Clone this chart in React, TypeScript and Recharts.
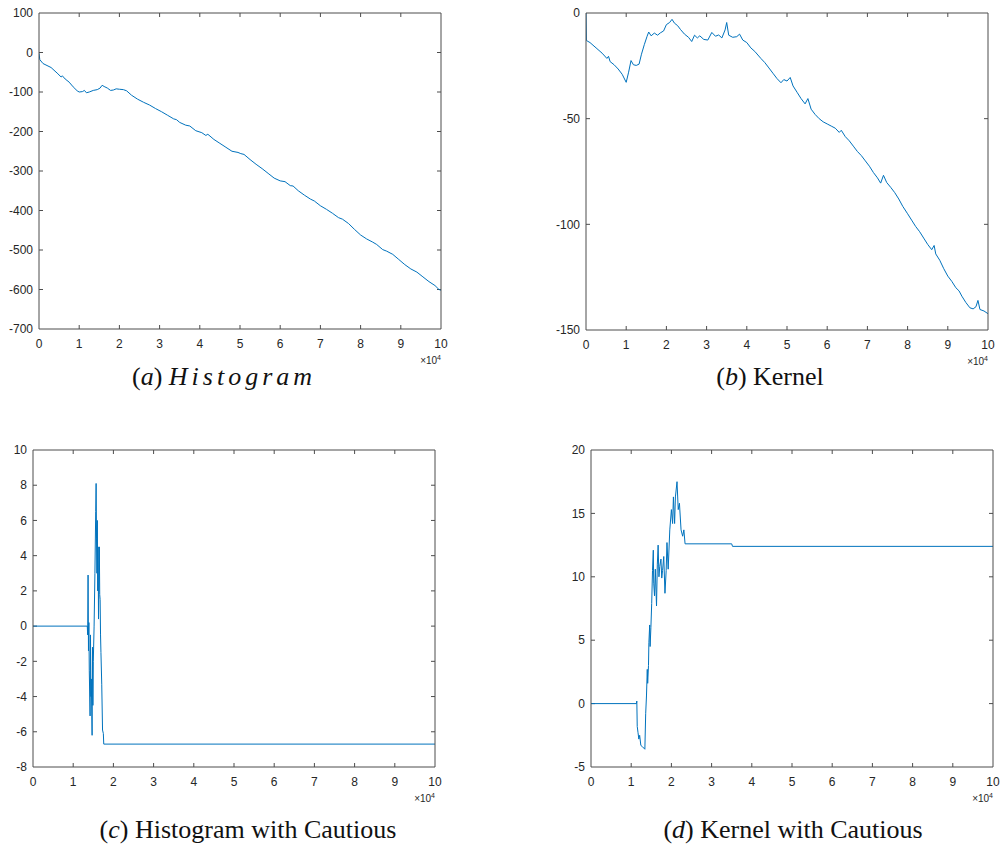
import React from "react";
import { LineChart, Line, XAxis, YAxis, ReferenceLine } from "recharts";

type Pt = [number, number];

// x ticks shared by all four panels (labels are shown in units of 10^4)
const xTicks = [0, 10000, 20000, 30000, 40000, 50000, 60000, 70000, 80000, 90000, 100000];

// (a) Histogram
const histogramTicks = [-700, -600, -500, -400, -300, -200, -100, 0, 100];
const histogramPts: Pt[] = [
  [0, -2], [200, -18], [1000, -28], [3000, -38], [4500, -52], [5500, -62], [5800, -59], [6500, -67],
  [7500, -75], [8500, -87], [9500, -97], [10000, -100], [10800, -99], [11300, -96], [11800, -102],
  [12500, -100], [13500, -96], [14500, -94], [15200, -90], [15700, -83], [16200, -86], [17000, -90],
  [17800, -96], [18500, -95], [19200, -92], [20000, -93], [21000, -94], [21800, -97], [23000, -108],
  [24500, -118], [26000, -126], [27500, -133], [29000, -142], [30500, -150], [32000, -159], [33500, -168],
  [34200, -170], [35000, -177], [36500, -184], [37500, -186], [39000, -198], [40500, -203], [41500, -210],
  [42000, -207], [43500, -220], [45000, -230], [46500, -240], [48000, -250], [49500, -253], [50200, -256],
  [51000, -258], [52500, -271], [54000, -283], [55500, -294], [57000, -306], [58500, -318], [60000, -325],
  [61200, -327], [62500, -337], [63200, -338], [64500, -350], [66000, -361], [67500, -371], [68500, -376],
  [70000, -388], [71500, -397], [73000, -407], [74500, -418], [75500, -422], [77000, -433], [78500, -448],
  [80000, -462], [81500, -472], [83000, -480], [84000, -486], [85500, -499], [86500, -503], [88000, -511],
  [89500, -524], [91000, -537], [92500, -548], [94000, -556], [95500, -568], [97000, -580], [98500, -590],
  [99500, -600], [100000, -602],
];

// (b) Kernel
const kernelTicks = [-150, -100, -50, 0];
const kernelPts: Pt[] = [
  [0, 0], [100, -13], [1000, -14], [2500, -16.5], [4000, -19], [5200, -21.5], [5600, -20.5], [6000, -23],
  [7000, -24.5], [8000, -26.5], [9000, -29], [10000, -32.8], [10600, -28], [11200, -22.5], [11800, -24.5],
  [12500, -24.8], [13200, -24.2], [13800, -19.5], [14500, -15], [15200, -11], [15600, -9], [16200, -10.8],
  [17000, -9.5], [17800, -10.5], [18500, -9.4], [19300, -8.5], [20000, -5.5], [20800, -4.5], [21400, -3],
  [22000, -4.8], [22800, -6], [23500, -7.8], [24500, -10], [25500, -11.5], [26300, -13.5], [27000, -10.5],
  [27700, -11.8], [28300, -10.8], [29300, -12.5], [30300, -12.8], [31300, -9.2], [32200, -11], [33000, -10.4],
  [33800, -11.8], [34600, -8], [35000, -4.5], [35500, -10.5], [36500, -11.5], [37500, -11.2], [38200, -10],
  [39000, -12.8], [40000, -14], [41000, -16.5], [42000, -18.2], [43500, -21.5], [44500, -23.5], [45500, -26],
  [46500, -28.5], [47500, -31], [48500, -33], [49200, -31.5], [50000, -32.2], [50800, -30.5], [51500, -34.5],
  [52500, -37.5], [53500, -40.5], [54500, -43], [55200, -40.5], [56000, -45.5], [57000, -48], [58000, -50],
  [59000, -51.5], [60000, -52.5], [61000, -53.5], [62000, -54.5], [63000, -56.5], [63500, -55.5], [64500, -58.5],
  [65500, -60.5], [66500, -63], [67500, -65.5], [68500, -67.5], [69500, -70], [70500, -72.5], [71500, -75.5],
  [72500, -78], [73300, -80.5], [74000, -76.8], [74800, -80.2], [75800, -82.5], [76800, -85], [77800, -88],
  [78800, -91.5], [80000, -95], [81000, -98], [82000, -101], [83000, -103.5], [84000, -106.5], [85000, -109.5],
  [86000, -112], [86600, -110], [87000, -114], [88000, -117], [89000, -121], [90000, -124.5], [91000, -127],
  [92000, -130], [92800, -131.5], [93500, -134], [94500, -137], [95500, -139.5], [96300, -140], [97000, -139],
  [97500, -136], [98000, -140.3], [99000, -141], [100000, -142.3],
];

// (c) Histogram with Cautious
const cautiousHistTicks = [-8, -6, -4, -2, 0, 2, 4, 6, 8, 10];
const cautiousHistPts: Pt[] = [
  [0, 0], [13500, 0], [13600, -0.5], [13700, 2.9], [13800, -1.4], [13900, 0.2], [14000, -2.5], [14200, -5.1],
  [14300, -0.5], [14400, -4], [14500, -3], [14700, -6.2], [14800, -1.2], [14900, -4.5], [15000, -2],
  [15200, 0], [15400, 3], [15600, 6.5], [15700, 8.1], [15800, 5], [15900, 3], [16000, 6], [16100, 2],
  [16200, 4.5], [16300, 0.4], [16400, 2.5], [16500, 4.5], [16600, 1.8], [16700, 1.5], [16800, -0.5],
  [16900, -1.5], [17100, -3.3], [17300, -5.9], [17500, -6.1], [17600, -6.7], [100000, -6.7],
];

// (d) Kernel with Cautious
const cautiousKernelTicks = [-5, 0, 5, 10, 15, 20];
const cautiousKernelPts: Pt[] = [
  [0, 0], [11300, 0], [11400, 0.2], [11500, -1.8], [11700, -2.3], [11900, -2.8], [12100, -2.5], [12400, -3.3],
  [12800, -3.4], [13100, -3.5], [13400, -3.6], [13600, -0.8], [13800, 0.6], [14000, 2.7], [14100, 1.6],
  [14300, 3], [14400, 4.8], [14600, 6.2], [14700, 4.5], [14900, 6], [15100, 7.9], [15300, 10.5], [15500, 12.1],
  [15600, 9.5], [15800, 8.5], [16000, 10.6], [16300, 7.7], [16500, 11], [16700, 12.5], [16900, 10],
  [17100, 10.8], [17400, 11.4], [17600, 9.9], [17800, 10.5], [18100, 11.6], [18400, 8.7], [18700, 10.5],
  [18900, 12.7], [19200, 10.6], [19600, 13.7], [20000, 15.3], [20300, 14.2], [20500, 16.3], [20800, 14.2],
  [21000, 16.3], [21400, 17.5], [21700, 15.3], [22000, 15.8], [22400, 13.7], [22800, 13.2], [23100, 13.7],
  [23400, 12.6], [35000, 12.6], [35200, 12.4], [100000, 12.4],
];

const AXIS = "#4d4d4d";
const TEXT = "#262626";
const LINE = "#0072BD";
const YW = 36;
const XH = 30;
const PAD = 12;
const TICK = 4; // inward tick length, px

type Frame = { x: number; y: number; w: number; h: number };

function Panel({ pts, ticks, frame }: { pts: Pt[]; ticks: number[]; frame: Frame }) {
  const data = pts.map(([x, y]) => ({ x, y }));
  const lo = ticks[0];
  const hi = ticks[ticks.length - 1];
  const xMax = xTicks[xTicks.length - 1];
  // tick length converted to data units so the marks go through the scales
  const dx = (xMax * TICK) / frame.w;
  const dy = ((hi - lo) * TICK) / frame.h;
  const tickFont = { fontSize: 12, fill: TEXT, fontFamily: "'Liberation Sans', Arial, sans-serif" };
  const tickProps = { stroke: AXIS, strokeWidth: 1, ifOverflow: "visible" as const };
  return (
    <>
      <div style={{ position: "absolute", left: frame.x - YW, top: frame.y - PAD }}>
        <LineChart
          width={YW + frame.w + PAD}
          height={PAD + frame.h + XH}
          data={data}
          margin={{ top: PAD - 1, right: PAD - 1, left: 0, bottom: 0 }}
        >
          <XAxis
            dataKey="x"
            type="number"
            domain={[0, xMax]}
            ticks={xTicks}
            interval={0}
            allowDataOverflow
            height={XH}
            tickLine={false}
            tickSize={0}
            tickMargin={10}
            tickFormatter={(v: number) => String(v / 10000)}
            tick={tickFont}
            stroke={AXIS}
          />
          <XAxis
            xAxisId="top"
            orientation="top"
            type="number"
            domain={[0, xMax]}
            ticks={xTicks}
            allowDataOverflow
            height={1}
            tickLine={false}
            tick={false}
            stroke={AXIS}
          />
          <YAxis
            type="number"
            domain={[lo, hi]}
            ticks={ticks}
            interval={0}
            allowDataOverflow
            width={YW}
            tickLine={false}
            tickSize={0}
            tickMargin={6}
            tick={tickFont}
            stroke={AXIS}
          />
          <YAxis
            yAxisId="right"
            orientation="right"
            type="number"
            domain={[lo, hi]}
            ticks={ticks}
            allowDataOverflow
            width={1}
            tickLine={false}
            tick={false}
            stroke={AXIS}
          />
          {xTicks.slice(1, -1).map((t) => (
            <ReferenceLine key={`xb${t}`} segment={[{ x: t, y: lo }, { x: t, y: lo + dy }]} {...tickProps} />
          ))}
          {xTicks.slice(1, -1).map((t) => (
            <ReferenceLine key={`xt${t}`} segment={[{ x: t, y: hi }, { x: t, y: hi - dy }]} {...tickProps} />
          ))}
          {ticks.slice(1, -1).map((t) => (
            <ReferenceLine key={`yl${t}`} segment={[{ x: 0, y: t }, { x: dx, y: t }]} {...tickProps} />
          ))}
          {ticks.slice(1, -1).map((t) => (
            <ReferenceLine key={`yr${t}`} segment={[{ x: xMax, y: t }, { x: xMax - dx, y: t }]} {...tickProps} />
          ))}
          <Line
            dataKey="y"
            type="linear"
            stroke={LINE}
            strokeWidth={1}
            dot={false}
            isAnimationActive={false}
          />
        </LineChart>
      </div>
      <div
        style={{
          position: "absolute",
          left: frame.x + frame.w - 40,
          width: 40,
          top: frame.y + frame.h + 26,
          textAlign: "right",
          fontSize: 10,
          lineHeight: "12px",
          color: TEXT,
          fontFamily: "'Liberation Sans', Arial, sans-serif",
        }}
      >
        ×10<sup style={{ fontSize: 7, verticalAlign: "4px", lineHeight: 0 }}>4</sup>
      </div>
    </>
  );
}

function Caption({ cx, cy, children }: { cx: number; cy: number; children: React.ReactNode }) {
  return (
    <div
      style={{
        position: "absolute",
        left: cx - 200,
        width: 400,
        top: cy - 16,
        lineHeight: "32px",
        textAlign: "center",
        fontSize: 26,
        color: "#111",
        fontFamily: "'Liberation Serif', 'DejaVu Serif', serif",
        whiteSpace: "nowrap",
      }}
    >
      {children}
    </div>
  );
}

export default function App() {
  return (
    <div style={{ position: "absolute", left: 0, top: 0, width: 1000, height: 852, background: "#fff", overflow: "hidden" }}>
      <Panel pts={histogramPts} ticks={histogramTicks} frame={{ x: 39, y: 13, w: 402, h: 316 }} />
      <Panel pts={kernelPts} ticks={kernelTicks} frame={{ x: 586, y: 13, w: 402, h: 317 }} />
      <Panel pts={cautiousHistPts} ticks={cautiousHistTicks} frame={{ x: 33, y: 450, w: 402, h: 317 }} />
      <Panel pts={cautiousKernelPts} ticks={cautiousKernelTicks} frame={{ x: 591, y: 450, w: 402, h: 317 }} />

      <Caption cx={224} cy={377}>
        (<i>a</i>) <i style={{ letterSpacing: 4 }}>Histogram</i>
      </Caption>
      <Caption cx={770} cy={377}>
        (<i>b</i>) Kernel
      </Caption>
      <Caption cx={248} cy={830}>
        (<i>c</i>) Histogram with Cautious
      </Caption>
      <Caption cx={793} cy={830}>
        (<i>d</i>) Kernel with Cautious
      </Caption>
    </div>
  );
}
